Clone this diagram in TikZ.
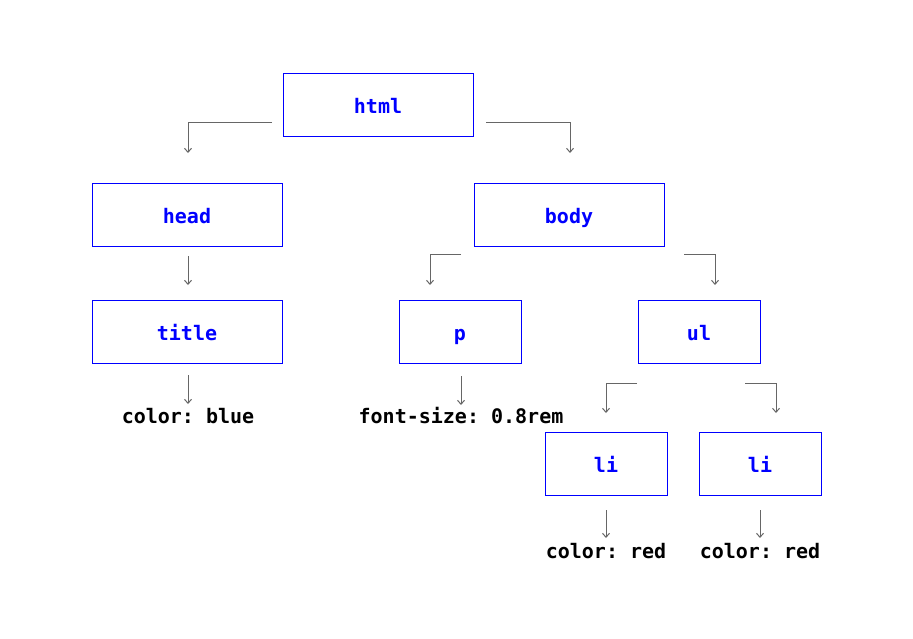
\documentclass[tikz,border=0pt]{standalone}
\usepackage{fontspec}
\setmonofont{DejaVu Sans Mono}
\usetikzlibrary{arrows.meta}
\begin{document}
\begin{tikzpicture}[x=1pt,y=-1pt,
  tag/.style={draw=blue, line width=1pt, text=blue, minimum height=63pt, inner sep=0pt,
    text height=17pt, text depth=0pt,
    font=\fontsize{20}{24}\selectfont\ttfamily\bfseries},
  wide/.style={tag, minimum width=190pt},
  narrow/.style={tag, minimum width=122pt},
  rule/.style={inner sep=0pt, anchor=base, font=\fontsize{20}{24}\selectfont\ttfamily\bfseries},
  link/.style={draw=black!60, line width=1pt, -{Straight Barb[length=4pt,width=7pt]}}]
\useasboundingbox (0,0) rectangle (913,638);
% boxes
\node[wide] (html) at (378,104.5) {html};
\node[wide] (head) at (187,214.5) {head};
\node[wide] (body) at (569,214.5) {body};
\node[wide] (title) at (187,331.5) {title};
\node[narrow] (p) at (460,331.5) {p};
\node[narrow] (ul) at (699,331.5) {ul};
\node[narrow] (li1) at (606,463.5) {li};
\node[narrow] (li2) at (760,463.5) {li};
% rule labels
\node[rule] (r1) at (188,423.5) {color: blue};
\node[rule] (r2) at (461,423.5) {font-size: 0.8rem};
\node[rule] (r3) at (606,558) {color: red};
\node[rule] (r4) at (760,558) {color: red};
% connector end points
\coordinate (a1) at (272,122); \coordinate (a2) at (188,122); \coordinate (a3) at (188,153);
\coordinate (b1) at (486,122); \coordinate (b2) at (570,122); \coordinate (b3) at (570,153);
\coordinate (c1) at (188,256); \coordinate (c2) at (188,285);
\coordinate (d1) at (188,375); \coordinate (d2) at (188,404);
\coordinate (e1) at (461,254); \coordinate (e2) at (430,254); \coordinate (e3) at (430,285);
\coordinate (f1) at (684,254); \coordinate (f2) at (715,254); \coordinate (f3) at (715,285);
\coordinate (g1) at (461,376); \coordinate (g2) at (461,405);
\coordinate (h1) at (637,383); \coordinate (h2) at (606,383); \coordinate (h3) at (606,413);
\coordinate (i1) at (745,383); \coordinate (i2) at (776,383); \coordinate (i3) at (776,413);
\coordinate (j1) at (606,510); \coordinate (j2) at (606,538);
\coordinate (k1) at (760,510); \coordinate (k2) at (760,538);
% connectors
\draw[link] (a1) -- (a2) -- (a3);
\draw[link] (b1) -- (b2) -- (b3);
\draw[link] (c1) -- (c2);
\draw[link] (d1) -- (d2);
\draw[link] (e1) -- (e2) -- (e3);
\draw[link] (f1) -- (f2) -- (f3);
\draw[link] (g1) -- (g2);
\draw[link] (h1) -- (h2) -- (h3);
\draw[link] (i1) -- (i2) -- (i3);
\draw[link] (j1) -- (j2);
\draw[link] (k1) -- (k2);
\end{tikzpicture}
\end{document}
